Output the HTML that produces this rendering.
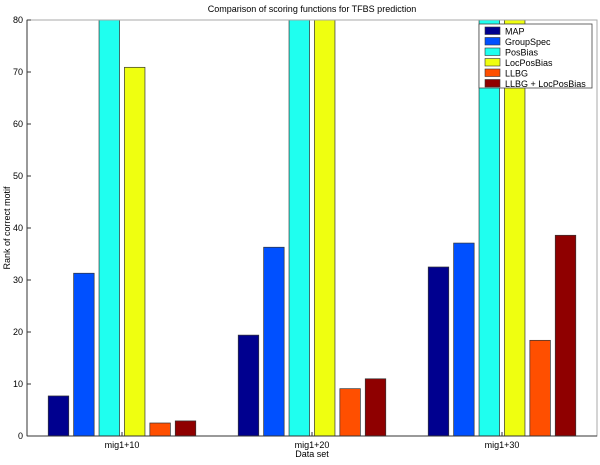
<!DOCTYPE html>
<html><head><meta charset="utf-8"><style>
body{margin:0;background:#fff;}
svg text{font-family:"Liberation Sans",sans-serif;fill:#000;}
</style></head><body>
<svg width="600" height="460" id="c">
<defs><clipPath id="pc"><rect x="27" y="20" width="570" height="416"/></clipPath></defs>
<rect x="27" y="20" width="570" height="416" fill="#fff" stroke="none"/>
<text x="312" y="12" font-size="9" text-anchor="middle">Comparison of scoring functions for TFBS prediction</text>
<text x="312" y="457" font-size="9" text-anchor="middle">Data set</text>
<text transform="translate(10,228) rotate(-90)" font-size="9" text-anchor="middle">Rank of correct motif</text>
<g id="bars" clip-path="url(#pc)"></g>
<g id="axes"></g>
<g id="legend"></g>
</svg>
<script>
const categories=["mig1+10","mig1+20","mig1+30"];
const seriesNames=["MAP","GroupSpec","PosBias","LocPosBias","LLBG","LLBG + LocPosBias"];
const colors=["#00008f","#0050ff","#1fffef","#efff10","#ff4f00","#8f0000"];
const MAP=[7.7,19.4,32.5];
const GroupSpec=[31.3,36.3,37.1];
const PosBias=[100,100,100];
const LocPosBias=[70.9,100,100];
const LLBG=[2.5,9.1,18.4];
const LLBGLoc=[2.9,11.0,38.6];
const yTicks=[0,10,20,30,40,50,60,70,80];
const series=[MAP,GroupSpec,PosBias,LocPosBias,LLBG,LLBGLoc];
const NS="http://www.w3.org/2000/svg";
const X0=27,X1=597,Y0=436,Y1=20;
const xs=v=>X0+(v-0.5)/3*(X1-X0);
const ys=v=>Y0-v/80*(Y0-Y1);
function mk(t,a,p){const e=document.createElementNS(NS,t);for(const k in a)e.setAttribute(k,a[k]);p.appendChild(e);return e;}
const bars=document.getElementById('bars'),axes=document.getElementById('axes'),leg=document.getElementById('legend');
series.forEach((s,si)=>{s.forEach((v,ci)=>{
 const c=ci+1+(si-2.5)*0.1337;
 const l=xs(c-0.054),r=xs(c+0.054);
 const r_=mk('rect',{x:l,y:ys(v),width:r-l,height:Y0-ys(v),fill:colors[si],stroke:"#333","stroke-width":0.7},bars);
 
 
});});
const fr=mk('rect',{x:X0,y:Y1,width:X1-X0,height:Y0-Y1,fill:"none",stroke:"#aaa","stroke-width":1},axes);

const la=mk('line',{x1:X0,y1:Y1,x2:X0,y2:Y0,stroke:"#333"},axes);

const ba=mk('line',{x1:X0,y1:Y0,x2:X1,y2:Y0,stroke:"#333"},axes);

yTicks.forEach(t=>{
 mk('line',{x1:X0,y1:ys(t),x2:X0+4,y2:ys(t),stroke:"#333"},axes);
 const tx=mk('text',{x:X0-4,y:ys(t)+3,"font-size":9,"text-anchor":"end"},axes);tx.textContent=t;
 
});
categories.forEach((c,i)=>{
 mk('line',{x1:xs(i+1),y1:Y0,x2:xs(i+1),y2:Y0-4,stroke:"#333"},axes);
 const tx=mk('text',{x:xs(i+1),y:448,"font-size":9,"text-anchor":"middle"},axes);tx.textContent=c;
 
});
const lb=mk('rect',{x:479,y:24,width:113,height:64,fill:"#fff",stroke:"#444","stroke-width":0.8},leg);

seriesNames.forEach((n,i)=>{
 const y=27+i*10.5;
 const sw=mk('rect',{x:485,y:y,width:15,height:7.5,fill:colors[i],stroke:"#333","stroke-width":0.6},leg);
 
 const tx=mk('text',{x:505,y:y+7.5,"font-size":9},leg);tx.textContent=n;
 
});
</script>
</body></html>
